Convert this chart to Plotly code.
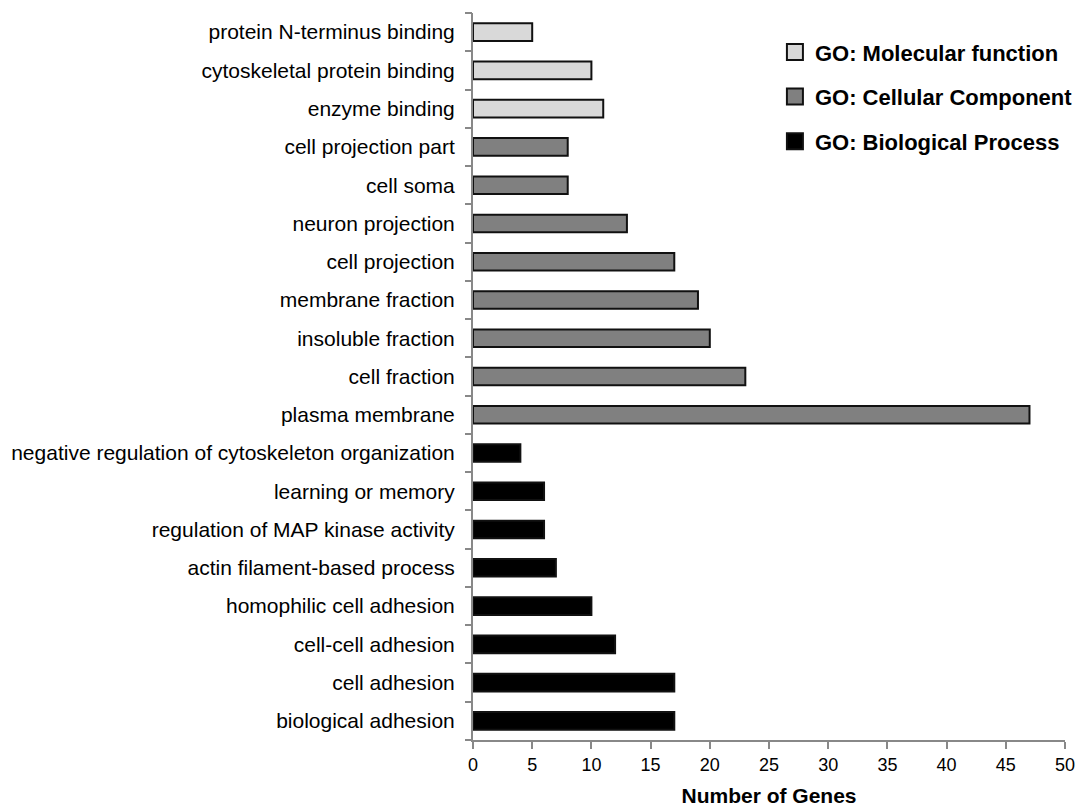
import plotly.graph_objects as go

# categories bottom -> top
bp_terms = ["biological adhesion", "cell adhesion", "cell-cell adhesion", "homophilic cell adhesion",
            "actin filament-based process", "regulation of MAP kinase activity", "learning or memory",
            "negative regulation of cytoskeleton organization"]
bp_values = [17, 17, 12, 10, 7, 6, 6, 4]

cc_terms = ["plasma membrane", "cell fraction", "insoluble fraction", "membrane fraction",
            "cell projection", "neuron projection", "cell soma", "cell projection part"]
cc_values = [47, 23, 20, 19, 17, 13, 8, 8]

mf_terms = ["enzyme binding", "cytoskeletal protein binding", "protein N-terminus binding"]
mf_values = [11, 10, 5]

x_ticks = [0, 5, 10, 15, 20, 25, 30, 35, 40, 45, 50]

all_terms = bp_terms + cc_terms + mf_terms
pos = {t: i for i, t in enumerate(all_terms)}
n = len(all_terms)

font = "Liberation Sans, Arial, sans-serif"
fig = go.Figure()
groups = [
    ("GO: Molecular function", mf_terms, mf_values, "#D9D9D9"),
    ("GO: Cellular Component", cc_terms, cc_values, "#808080"),
    ("GO: Biological Process", bp_terms, bp_values, "#000000"),
]
for i, (name, terms, vals, col) in enumerate(groups):
    fig.add_trace(go.Bar(
        x=vals, y=[pos[t] for t in terms], orientation="h", name=name,
        marker=dict(color=col, line=dict(color="#111111", width=2)),
        width=0.46, legendgroup=f"g{i}", showlegend=False,
    ))
    # legend entry with a larger square swatch
    fig.add_trace(go.Scatter(
        x=[None], y=[None], mode="markers", name=name, legendgroup=f"g{i}",
        marker=dict(symbol="square", size=16, color=col, line=dict(color="#111111", width=2)),
    ))

# boundary ticks on the category axis
fig.add_trace(go.Scatter(x=[None], y=[None], yaxis="y2", showlegend=False, hoverinfo="skip"))

fig.update_layout(
    width=1076, height=799,
    paper_bgcolor="white", plot_bgcolor="white",
    margin=dict(l=465, r=19, t=5, b=67),
    font=dict(family=font, size=19, color="#000000"),
    showlegend=True,
    legend=dict(
        x=0.51, y=0.975, xanchor="left", yanchor="top",
        traceorder="grouped", tracegroupgap=13,
        font=dict(family=font, size=22, color="#000000", weight="bold"),
        bgcolor="rgba(0,0,0,0)", itemwidth=30,
    ),
    yaxis2=dict(
        overlaying="y", side="left", range=[-0.5, n - 0.5],
        tickvals=[k - 0.5 for k in range(n + 1)], ticks="outside", ticklen=7,
        tickcolor="#888888", tickwidth=2, showticklabels=False, showgrid=False,
        zeroline=False, showline=False, automargin=False,
    ),
)
fig.update_xaxes(
    range=[0, 50], tickvals=x_ticks, ticks="outside", ticklen=7, tickcolor="#888888", tickwidth=2,
    showline=True, linecolor="#888888", linewidth=2, showgrid=False, zeroline=False,
    title=dict(text="<b>Number of Genes</b>", font=dict(family=font, size=21), standoff=16),
    tickfont=dict(family=font, size=18), automargin=False,
)
fig.layout.yaxis.update(
    range=[-0.5, n - 0.5],
    tickvals=list(range(n)), ticktext=all_terms,
    ticks="", showline=True, linecolor="#888888", linewidth=2, showgrid=False, zeroline=False,
    tickfont=dict(family=font, size=21), ticklabelstandoff=12, automargin=False,
)
fig.write_html("out.html")
